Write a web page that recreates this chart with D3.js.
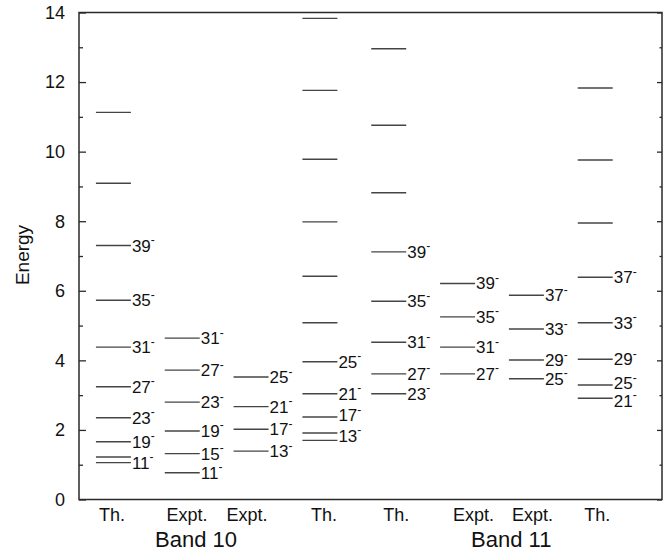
<!DOCTYPE html>
<html>
<head>
<meta charset="utf-8">
<script src="https://cdn.jsdelivr.net/npm/d3@7"></script>
<style>
  body { margin: 0; background: #fff; }
  svg { font-family: "Liberation Sans", Arial, Helvetica, sans-serif; }
</style>
</head>
<body>
<svg id="chart"></svg>
<script>
// column headers (x tick labels) and where they sit, in column units
const columnLabels = ["Th.", "Expt.", "Expt.", "Th.", "Th.", "Expt.", "Expt.", "Th."];
const columnLabelPos = [0.98, 2.07, 2.94, 4.06, 5.11, 6.23, 7.09, 8.03];
const bandNames = ["Band 10", "Band 11"];
const bandPos = [2.20, 6.78];

// level energies and spin labels, one pair of arrays per column
const th10a = [11.13, 9.09, 7.30, 5.73, 4.38, 3.24, 2.35, 1.66, 1.22, 1.06];
const th10aSpin = ["", "", "39", "35", "31", "27", "23", "19", "", "11"];
const expt10a = [4.64, 3.72, 2.80, 1.97, 1.32, 0.77];
const expt10aSpin = ["31", "27", "23", "19", "15", "11"];
const expt10b = [3.52, 2.67, 2.02, 1.39];
const expt10bSpin = ["25", "21", "17", "13"];
const th10b = [13.83, 11.76, 9.78, 7.98, 6.42, 5.08, 3.96, 3.04, 2.37, 1.91, 1.70];
const th10bSpin = ["", "", "", "", "", "", "25", "21", "17", "13", ""];
const th11a = [12.96, 10.76, 8.82, 7.12, 5.70, 4.52, 3.61, 3.04];
const th11aSpin = ["", "", "", "39", "35", "31", "27", "23"];
const expt11a = [6.21, 5.25, 4.38, 3.61];
const expt11aSpin = ["39", "35", "31", "27"];
const expt11b = [5.87, 4.90, 4.01, 3.47];
const expt11bSpin = ["37", "33", "29", "25"];
const th11b = [11.83, 9.76, 7.95, 6.39, 5.08, 4.03, 3.29, 2.91];
const th11bSpin = ["", "", "", "37", "33", "29", "25", "21"];

const yTicks = [0, 2, 4, 6, 8, 10, 12, 14];

const columns = [
  [th10a, th10aSpin], [expt10a, expt10aSpin], [expt10b, expt10bSpin], [th10b, th10bSpin],
  [th11a, th11aSpin], [expt11a, expt11aSpin], [expt11b, expt11bSpin], [th11b, th11bSpin]
];

// flatten into one list of levels; labels of tight pairs get nudged apart
const levels = [];
columns.forEach((c, i) => {
  c[0].forEach((e, j) => {
    const below = c[0][j + 1];
    const above = c[0][j - 1];
    let nudge = 0;
    if (c[1][j] && below !== undefined && c[1][j + 1] && e - below < 0.5) nudge = -2;
    if (c[1][j] && above !== undefined && c[1][j - 1] && above - e < 0.5) nudge = 2.5;
    levels.push({ col: i + 1, e: e, spin: c[1][j], nudge: nudge });
  });
});

const width = 671, height = 556;
const svg = d3.select("#chart").attr("width", width).attr("height", height);

const plotLeft = 79, plotRight = 662, plotTop = 12.5, plotBottom = 499.5;

const x = d3.scaleLinear().domain([0.5, 8.97]).range([plotLeft, plotRight]);
const y = d3.scaleLinear().domain([0, 14]).range([plotBottom, plotTop]);
const halfW = 0.254; // half width of a level line, column units

const frame = "#2a2a2a";

// left axis, ticks pointing inward
const leftAxis = svg.append("g").attr("transform", `translate(${plotLeft},0)`)
  .call(d3.axisRight(y).tickValues(d3.range(0, 15, 1)).tickSize(4).tickFormat(""));
leftAxis.selectAll(".tick line")
  .attr("x2", d => d % 2 === 0 ? 7 : 4)
  .attr("stroke", frame).attr("stroke-width", 1.3);
leftAxis.select(".domain").remove();

svg.append("g").selectAll("text")
  .data(yTicks)
  .join("text")
  .attr("x", 65)
  .attr("y", d => y(d))
  .attr("dy", "0.35em")
  .attr("text-anchor", "end")
  .attr("font-size", 18)
  .attr("fill", "#111")
  .text(d => d);

// right axis, ticks pointing inward
const rightAxis = svg.append("g").attr("transform", `translate(${plotRight},0)`)
  .call(d3.axisLeft(y).tickValues(d3.range(0, 15, 1)).tickSize(3).tickFormat(""));
rightAxis.selectAll(".tick line")
  .attr("x2", d => d % 2 === 0 ? -5 : -2.5)
  .attr("stroke", frame).attr("stroke-width", 1.3);
rightAxis.select(".domain").remove();

// frame
svg.append("rect")
  .attr("x", plotLeft).attr("y", plotTop)
  .attr("width", plotRight - plotLeft).attr("height", plotBottom - plotTop)
  .attr("fill", "none")
  .attr("stroke", frame)
  .attr("stroke-width", 1.5);

// y title
svg.append("text")
  .attr("transform", `translate(29,${(plotTop + plotBottom) / 2 - 1}) rotate(-90)`)
  .attr("text-anchor", "middle")
  .attr("font-size", 19)
  .attr("fill", "#111")
  .text("Energy");

// column headers
svg.append("g").selectAll("text")
  .data(columnLabels)
  .join("text")
  .attr("x", (d, i) => x(columnLabelPos[i]))
  .attr("y", 521)
  .attr("text-anchor", "middle")
  .attr("font-size", 18)
  .attr("fill", "#111")
  .text(d => d);

// band names
svg.append("g").selectAll("text")
  .data(bandNames)
  .join("text")
  .attr("x", (d, i) => x(bandPos[i]))
  .attr("y", 547)
  .attr("text-anchor", "middle")
  .attr("font-size", 22)
  .attr("fill", "#111")
  .text(d => d);

// level lines
svg.append("g").selectAll("line")
  .data(levels)
  .join("line")
  .attr("x1", d => x(d.col - halfW))
  .attr("x2", d => x(d.col + halfW))
  .attr("y1", d => y(d.e))
  .attr("y2", d => y(d.e))
  .attr("stroke", "#444")
  .attr("stroke-width", 1.4);

// spin labels with a superscript minus
const lab = svg.append("g").selectAll("text")
  .data(levels.filter(d => d.spin !== ""))
  .join("text")
  .attr("x", d => x(d.col + halfW) + 1)
  .attr("y", d => y(d.e) + 6 + d.nudge)
  .attr("font-size", 17)
  .attr("fill", "#111");
lab.append("tspan").text(d => d.spin);
lab.append("tspan")
  .attr("font-size", 12)
  .attr("dy", -7.5)
  .text("-");
</script>
</body>
</html>
